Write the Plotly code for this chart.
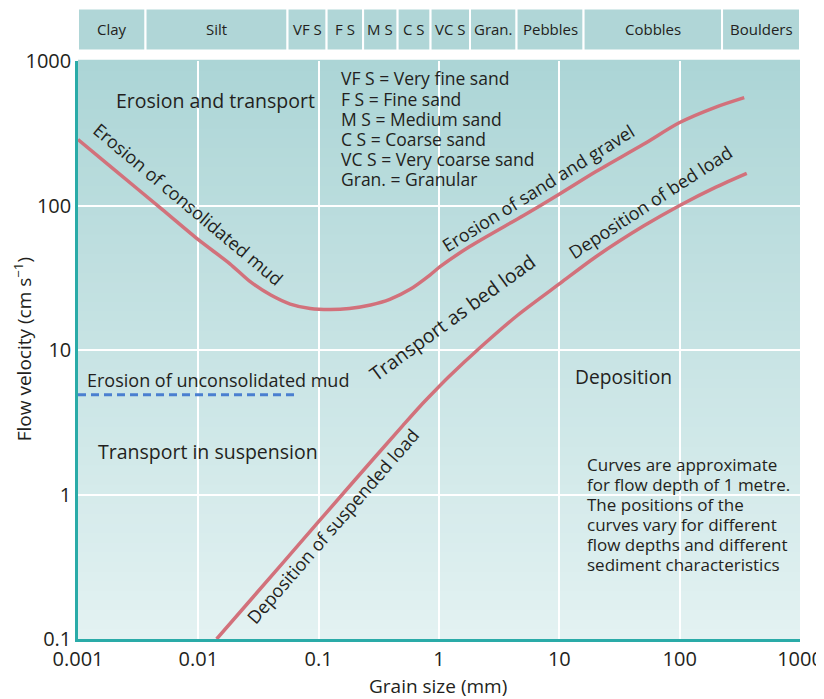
import math
import plotly.graph_objects as go

# ---------------- data ----------------
# Erosion curve (consolidated mud -> sand and gravel)
erosion_x = [0.001, 0.002, 0.005, 0.01, 0.0183, 0.027, 0.04, 0.058, 0.085, 0.125, 0.18, 0.27,
             0.39, 0.575, 0.84, 1.02, 1.8, 5, 10.2, 20, 50, 100, 200, 344]
erosion_y = [286, 177, 94, 58, 39.5, 29.7, 24, 20.8, 19.4, 19.1, 19.4, 20.5,
             22.4, 26.3, 33, 37.7, 52, 85, 121, 171, 265, 375, 480, 558]

# Deposition curve (suspended load -> bed load)
depo_x = [0.0142, 0.05, 0.2, 0.5, 0.7, 0.9, 1.2, 2.2, 4.5, 10.2, 20, 50, 100, 200, 361]
depo_y = [0.1, 0.334, 1.26, 3.0, 4.1, 5.1, 6.5, 10.4, 17.4, 29, 44, 72, 100, 134, 167]

# Erosion of unconsolidated mud (dashed)
mud_x = [0.001, 0.0637]
mud_y = [4.9, 4.9]

# Grain size classes for the top band (edges in mm, as drawn)
class_names = ["Clay", "Silt", "VF S", "F S", "M S", "C S", "VC S", "Gran.", "Pebbles", "Cobbles", "Boulders"]
class_edges = [0.001, 0.00364, 0.0551, 0.1164, 0.234, 0.453, 0.851, 1.81, 4.41, 15.9, 225, 1000]

x_ticks = [0.001, 0.01, 0.1, 1, 10, 100, 1000]
x_tick_labels = ["0.001", "0.01", "0.1", "1", "10", "100", "1000"]
y_ticks = [0.1, 1, 10, 100, 1000]
y_tick_labels = ["0.1", "1", "10", "100", "1000"]

legend_lines = ["VF S = Very fine sand", "F S = Fine sand", "M S = Medium sand",
                "C S = Coarse sand", "VC S = Very coarse sand", "Gran. = Granular"]
legend_y = [759, 548, 395, 288, 209, 152]
note_lines = ["Curves are approximate", "for flow depth of 1 metre.", "The positions of the",
              "curves vary for different", "flow depths and different", "sediment characteristics"]
note_y = [1.607, 1.169, 0.851, 0.619, 0.450, 0.327]

# ---------------- styling ----------------
FONT = "Open Sans"
TXT = "#231f20"
CURVE = "#d2717b"
BLUE = "#4a7fd0"
AXIS = "#2aaba8"
TOP_C = (172, 213, 214)
BOT_C = (227, 242, 242)
L = math.log10

fig = go.Figure()

fig.add_trace(go.Scatter(x=erosion_x, y=erosion_y, mode="lines",
                         line=dict(color=CURVE, width=3.5, shape="spline", smoothing=0.8),
                         hoverinfo="skip", showlegend=False))
fig.add_trace(go.Scatter(x=depo_x, y=depo_y, mode="lines",
                         line=dict(color=CURVE, width=3.5, shape="spline", smoothing=0.8),
                         hoverinfo="skip", showlegend=False))
fig.add_trace(go.Scatter(x=mud_x, y=mud_y, mode="lines",
                         line=dict(color=BLUE, width=3, dash="8px,5px"),
                         hoverinfo="skip", showlegend=False))

shapes = []
# vertical gradient background
n = 60
for i in range(n):
    t = (i + 0.5) / n
    c = tuple(round(BOT_C[k] + (TOP_C[k] - BOT_C[k]) * t) for k in range(3))
    shapes.append(dict(type="rect", xref="paper", yref="paper", x0=0, x1=1,
                       y0=i / n, y1=(i + 1) / n + 0.002, layer="below",
                       line=dict(width=0), fillcolor="rgb(%d,%d,%d)" % c))

annotations = []
# top band (shapes on log axes take data values)
for i, name in enumerate(class_names):
    x0, x1 = class_edges[i], class_edges[i + 1]
    shapes.append(dict(type="rect", xref="x", yref="paper", x0=x0, x1=x1,
                       y0=1.018, y1=1.091, line=dict(color="white", width=2),
                       fillcolor="#b0d6d7", layer="above"))
    annotations.append(dict(x=(L(x0) + L(x1)) / 2, y=1.0545, xref="x", yref="paper",
                            text=name, showarrow=False, xanchor="center", yanchor="middle",
                            font=dict(family=FONT, size=15, color=TXT)))


def ann(x, y, text, size=18, angle=0, xanchor="center"):
    annotations.append(dict(x=L(x), y=L(y), xref="x", yref="y", text=text,
                            showarrow=False, textangle=angle, xanchor=xanchor,
                            yanchor="middle", align="left", borderpad=0,
                            font=dict(family=FONT, size=size, color=TXT)))


ann(0.01377, 535, "Erosion and transport", size=19.5)
for txt, yy in zip(legend_lines, legend_y):
    ann(0.1507, yy, txt, size=17.5, xanchor="left")
ann(0.00821, 102, "Erosion of consolidated mud", size=18, angle=40)
ann(6.67, 132, "Erosion of sand and gravel", size=18, angle=-32)
ann(56.9, 106, "Deposition of bed load", size=18, angle=-33)
ann(1.285, 16.7, "Transport as bed load", size=19.5, angle=-36)
ann(0.1305, 0.608, "Deposition of suspended load", size=18, angle=-49)
ann(0.01445, 6.21, "Erosion of unconsolidated mud", size=18)
ann(0.01205, 1.985, "Transport in suspension", size=19.5)
ann(34.2, 6.52, "Deposition", size=19.2)
for txt, yy in zip(note_lines, note_y):
    ann(16.7, yy, txt, size=17, xanchor="left")

# axis titles
annotations.append(dict(x=0.4986, y=-0.082, xref="paper", yref="paper", text="Grain size (mm)",
                        showarrow=False, xanchor="center", yanchor="middle",
                        font=dict(family=FONT, size=19, color=TXT)))
annotations.append(dict(x=-0.077, y=0.502, xref="paper", yref="paper",
                        text="Flow velocity (cm s<sup>\u22121</sup>)", textangle=-90,
                        showarrow=False, xanchor="center", yanchor="middle",
                        font=dict(family=FONT, size=19, color=TXT)))

# page body has an 8px margin, so the figure is 8px smaller than the window
fig.update_layout(
    width=816, height=691,
    margin=dict(l=70, r=24, t=53, b=60, autoexpand=False),
    paper_bgcolor="white", plot_bgcolor="rgba(0,0,0,0)",
    font=dict(family=FONT, color=TXT),
    shapes=shapes, annotations=annotations,
    showlegend=False,
)
fig.update_xaxes(type="log", range=[-3, 3], tickvals=x_ticks, ticktext=x_tick_labels,
                 showgrid=True, gridcolor="white", gridwidth=2,
                 showline=True, linecolor=AXIS, linewidth=2.5, ticks="", automargin=False,
                 tickfont=dict(family=FONT, size=20, color=TXT), zeroline=False)
fig.update_yaxes(type="log", range=[-1, 3], tickvals=y_ticks, ticktext=y_tick_labels,
                 showgrid=True, gridcolor="white", gridwidth=2,
                 showline=True, linecolor=AXIS, linewidth=2.5, ticks="", automargin=False,
                 tickfont=dict(family=FONT, size=20, color=TXT), zeroline=False)

fig.write_html("out.html")
